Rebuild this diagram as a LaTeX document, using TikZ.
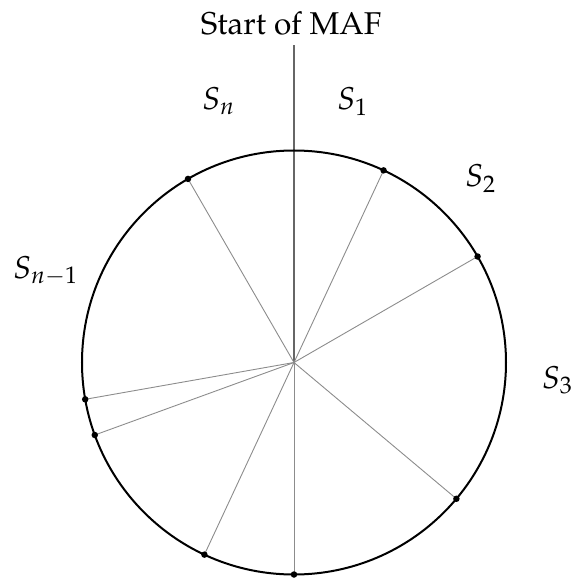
\documentclass[tikz,border=0pt]{standalone}
\usepackage[T1]{fontenc}
\usepackage{mathpazo}
\tikzset{
  rim/.style={line width=2pt, black},
  spoke/.style={line width=0.9pt, black!45},
  startline/.style={line width=1.3pt, black!60},
  pt/.style={circle, fill=black, inner sep=0pt, minimum size=6.5pt},
  lbl/.style={anchor=base west, inner sep=0pt, font=\fontsize{31.5}{36}\selectfont},
}
\begin{document}
\begin{tikzpicture}[x=1pt,y=1pt]
\useasboundingbox (-294,-216.5) rectangle (278,362.5);
\coordinate (c) at (0,0);
\coordinate (top) at (0,317.5);
\draw[startline] (c) -- (top);
\foreach \a/\n in {65/p1,30/p2,-40/p3,-90/p4,245/p5,200/p6,190/p7,120/p8}{
  \coordinate (\n) at (\a:212);
  \draw[spoke] (c) -- (\n);
}
\draw[rim] (c) circle[radius=212];
\foreach \n in {p1,p2,p3,p4,p5,p6,p7,p8}{
  \node[pt] (d\n) at (\n) {};
}
\node[lbl] (start) at (-93.3,327.5) {Start of MAF};
\node[lbl] (sn) at (-92,252.5) {$S_n$};
\node[lbl] (s1) at (43,252.5) {$S_1$};
\node[lbl] (s2) at (171,175.8) {$S_2$};
\node[lbl] (s3) at (247.7,-25.5) {$S_3$};
\node[lbl] (snm) at (-281,84.5) {$S_{n-1}$};
\end{tikzpicture}
\end{document}
